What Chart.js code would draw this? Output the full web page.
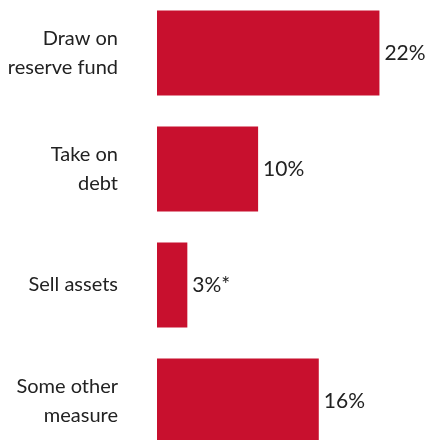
<!DOCTYPE html>
<html>
<head>
<meta charset="utf-8">
<script src="https://cdn.jsdelivr.net/npm/chart.js@4"></script>
<style>
  html, body { margin: 0; padding: 0; background: #fff; overflow: hidden; }
  body { width: 430px; height: 440px; position: relative; }
  #wrap { position: absolute; left: 0; top: -5px; width: 430px; height: 464px; }
</style>
</head>
<body>
<div id="wrap"><canvas id="measuresChart"></canvas></div>
<script>
// measures taken, share of respondents (%)
const categories = [
    ['Draw on', 'reserve fund'],
    ['Take on', 'debt'],
    ['Sell assets'],
    ['Some other', 'measure']
];
const shares = [22, 10, 3, 16];
const valueSuffix = ['', '', '*', ''];

const barColor = '#c8102e';
const textColor = '#222';
const fontFamily = 'Lato, "Open Sans", sans-serif';
const lineGap = 29;

// category names on the left and value text at the end of each bar
const barTextLabels = {
    id: 'barTextLabels',
    afterDatasetsDraw(chart) {
        const c = chart.ctx;
        const meta = chart.getDatasetMeta(0);
        c.save();
        c.fillStyle = textColor;
        c.textBaseline = 'middle';
        meta.data.forEach((bar, i) => {
            const lines = categories[i];
            const y0 = bar.y - (lines.length - 1) * lineGap / 2;
            c.font = '20px ' + fontFamily;
            c.textAlign = 'right';
            lines.forEach((t, k) => c.fillText(t, chart.chartArea.left - 39, y0 + k * lineGap));
            c.font = '21px ' + fontFamily;
            c.textAlign = 'left';
            c.fillText(shares[i] + '%' + valueSuffix[i], bar.x + 5, bar.y);
        });
        c.restore();
    }
};

const ctx = document.getElementById('measuresChart').getContext('2d');
new Chart(ctx, {
    type: 'bar',
    data: {
        labels: categories.map(l => l.join(' ')),
        datasets: [{
            data: shares,
            backgroundColor: barColor,
            borderWidth: 0,
            barPercentage: 0.733,
            categoryPercentage: 1
        }]
    },
    options: {
        indexAxis: 'y',
        responsive: true,
        maintainAspectRatio: false,
        animation: false,
        layout: { padding: { left: 157, right: 0, top: 0, bottom: 0 } },
        plugins: {
            legend: { display: false },
            tooltip: { enabled: false }
        },
        scales: {
            x: { display: false, min: 0, max: 27 },
            y: { display: false }
        }
    },
    plugins: [barTextLabels]
});
</script>
</body>
</html>
